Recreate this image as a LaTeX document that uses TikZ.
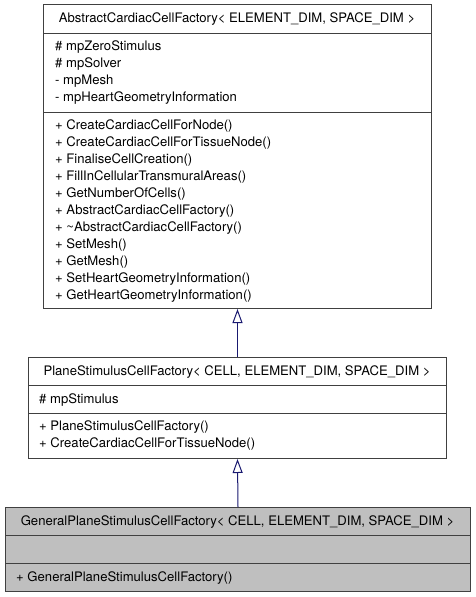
\documentclass[tikz,border=0pt]{standalone}
\usepackage{fontspec}
\setmainfont{TeX Gyre Heros}
\usetikzlibrary{arrows.meta}
\definecolor{boxline}{HTML}{404040}
\definecolor{derivfill}{HTML}{BFBFBF}
\definecolor{inhcol}{HTML}{191970}
\begin{document}
\begin{tikzpicture}[x=1pt,y=-1pt,
  umlbox/.style={draw=boxline, line width=1pt, inner sep=0, anchor=north west},
  sepline/.style={draw=boxline, line width=1pt},
  mtxt/.style={anchor=base west, inner sep=0, font=\fontsize{13.1}{15}\selectfont, text=black},
  ttxt/.style={anchor=base, inner sep=0, font=\fontsize{13.1}{15}\selectfont, text=black},
  inh/.style={draw=inhcol, line width=1pt, -{Triangle[length=14pt, width=10pt, fill=white]}}
]
\useasboundingbox (0,0) rectangle (475,597);
% top box
\node[umlbox, fill=white, minimum width=388pt, minimum height=304pt] (A) at (43,4) {};
\draw[sepline] (43,33) -- (431,33);
\draw[sepline] (43,112) -- (431,112);
\node[ttxt] (At) at (237,23) {AbstractCardiacCellFactory< ELEMENT\_DIM, SPACE\_DIM >};
\node[mtxt] (Aa1) at (55,50) {\# mpZeroStimulus};
\node[mtxt] (Aa2) at (55,67) {\# mpSolver};
\node[mtxt] (Aa3) at (55,84) {- mpMesh};
\node[mtxt] (Aa4) at (55,101) {- mpHeartGeometryInformation};
\node[mtxt] (Am1) at (55,129.5) {+ CreateCardiacCellForNode()};
\node[mtxt] (Am2) at (55,146.5) {+ CreateCardiacCellForTissueNode()};
\node[mtxt] (Am3) at (55,163.5) {+ FinaliseCellCreation()};
\node[mtxt] (Am4) at (55,180.5) {+ FillInCellularTransmuralAreas()};
\node[mtxt] (Am5) at (55,197.5) {+ GetNumberOfCells()};
\node[mtxt] (Am6) at (55,214.5) {+ AbstractCardiacCellFactory()};
\node[mtxt] (Am7) at (55,231.5) {+ \char`\~AbstractCardiacCellFactory()};
\node[mtxt] (Am8) at (55,248.5) {+ SetMesh()};
\node[mtxt] (Am9) at (55,265.5) {+ GetMesh()};
\node[mtxt] (Am10) at (55,282.5) {+ SetHeartGeometryInformation()};
\node[mtxt] (Am11) at (55,299.5) {+ GetHeartGeometryInformation()};
% middle box
\node[umlbox, fill=white, minimum width=418pt, minimum height=101pt] (B) at (28,357) {};
\draw[sepline] (28,385) -- (446,385);
\draw[sepline] (28,413) -- (446,413);
\node[ttxt] (Bt) at (237,375.5) {PlaneStimulusCellFactory< CELL, ELEMENT\_DIM, SPACE\_DIM >};
\node[mtxt] (Ba1) at (39,403) {\# mpStimulus};
\node[mtxt] (Bm1) at (39,430.5) {+ PlaneStimulusCellFactory()};
\node[mtxt] (Bm2) at (39,447.5) {+ CreateCardiacCellForTissueNode()};
% bottom box
\node[umlbox, fill=derivfill, minimum width=465pt, minimum height=84pt] (C) at (5,507) {};
\draw[sepline] (5,535) -- (470,535);
\draw[sepline] (5,563) -- (470,563);
\node[ttxt] (Ct) at (237.5,525.5) {GeneralPlaneStimulusCellFactory< CELL, ELEMENT\_DIM, SPACE\_DIM >};
\node[mtxt] (Cm1) at (16,581.5) {+ GeneralPlaneStimulusCellFactory()};
% inheritance
\draw[inh] (B.north) -- (A.south);
\draw[inh] (C.north) -- (B.south);
\end{tikzpicture}
\end{document}
